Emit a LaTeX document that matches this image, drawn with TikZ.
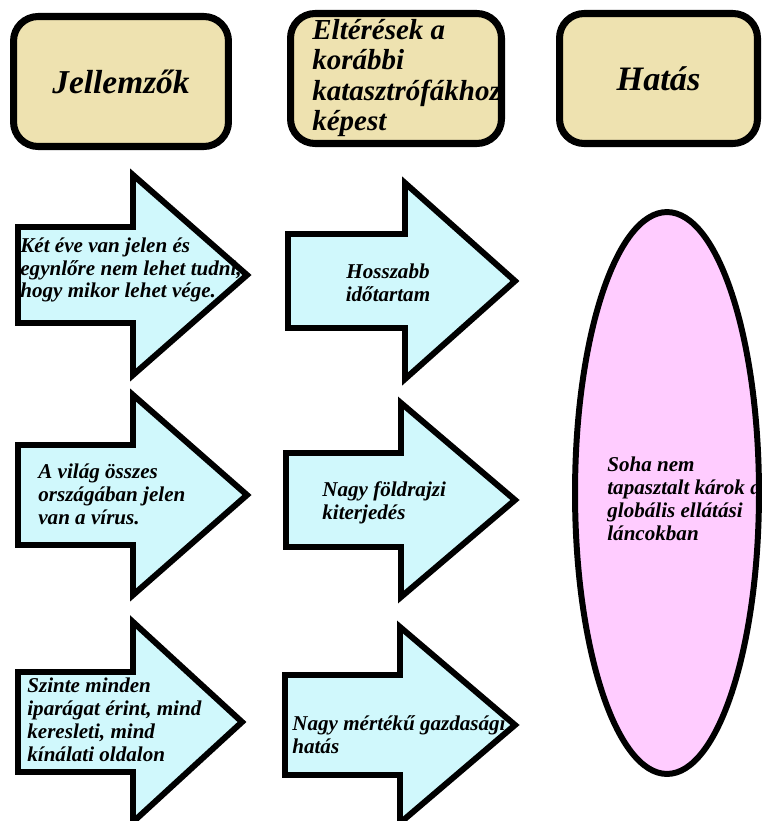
\documentclass[tikz,border=0pt]{standalone}
\usepackage{fontspec}
\setmainfont{Liberation Serif}
\usetikzlibrary{shapes.geometric}
\definecolor{headtan}{RGB}{238,226,176}
\definecolor{arrowcyan}{RGB}{208,248,252}
\definecolor{ovalpink}{RGB}{255,204,255}
\tikzset{
  headbox/.style={draw=black, line width=4pt, fill=headtan, rounded corners=14pt, inner sep=0pt},
  arrowbox/.style={draw=black, line width=3.4pt, fill=arrowcyan},
  oval/.style={ellipse, draw=black, line width=3.4pt, fill=ovalpink, inner sep=0pt},
  headtext/.style={font=\fontsize{19}{21}\selectfont\bfseries\itshape},
  bodytext/.style={align=left, anchor=west, inner sep=0pt, font=\fontsize{12}{13}\selectfont\bfseries\itshape}
}
% left end, back of head, tip, centre, half shaft, half head
\newcommand{\bigarrow}[6]{
\draw[arrowbox] (#1,#4-#5)--(#2,#4-#5)--(#2,#4-#6)--(#3,#4)--(#2,#4+#6)--(#2,#4+#5)--(#1,#4+#5)--cycle;
}
\begin{document}
\begin{tikzpicture}[x=0.02cm,y=-0.02cm]
\useasboundingbox (0,0) rectangle (763,821);
% headers
\node[headbox, headtext, minimum width=4.3cm, minimum height=2.6cm] (traits) at (121,81.5) {Jellemzők};
\node[headbox, minimum width=4.22cm, minimum height=2.6cm] (diff) at (396,78.5) {};
\node[headbox, headtext, minimum width=3.96cm, minimum height=2.6cm] (impact) at (658.5,78.5) {\fontsize{19.5}{21}\selectfont Hatás};
\node[bodytext, font=\fontsize{16.5}{17.3}\selectfont\bfseries\itshape] (difftext) at (312,78) {Eltérések a\\korábbi\\katasztrófákhoz\\képest};
% arrows
\bigarrow{18}{133}{247}{275}{48}{100}
\bigarrow{288}{405}{515}{281}{47}{98}
\bigarrow{18}{133}{247}{495}{50}{100}
\bigarrow{286}{401}{515}{500}{47}{97}
\bigarrow{18}{133}{242}{722}{50}{100}
\bigarrow{285}{400}{515}{725}{50}{98}
\node[bodytext] (trait1) at (20,270) {Két éve van jelen és\\egynlőre nem lehet tudni,\\hogy mikor lehet vége.};
\node[bodytext, align=center, anchor=center] (diff1) at (388,283) {Hosszabb\\időtartam};
\node[bodytext] (trait2) at (38,494) {A világ összes\\országában jelen\\van a vírus.};
\node[bodytext] (diff2) at (322,503) {Nagy földrajzi\\kiterjedés};
\node[bodytext] (trait3) at (27,720) {Szinte minden\\iparágat érint, mind\\keresleti, mind\\kínálati oldalon};
\node[bodytext] (diff3) at (292,735) {Nagy mértékű gazdasági\\hatás};
% impact
\node[oval, minimum width=3.68cm, minimum height=11.24cm] (damage) at (667,493) {};
\node[bodytext] (damagetext) at (607,499) {Soha nem\\tapasztalt károk a\\globális ellátási\\láncokban};
\end{tikzpicture}
\end{document}
